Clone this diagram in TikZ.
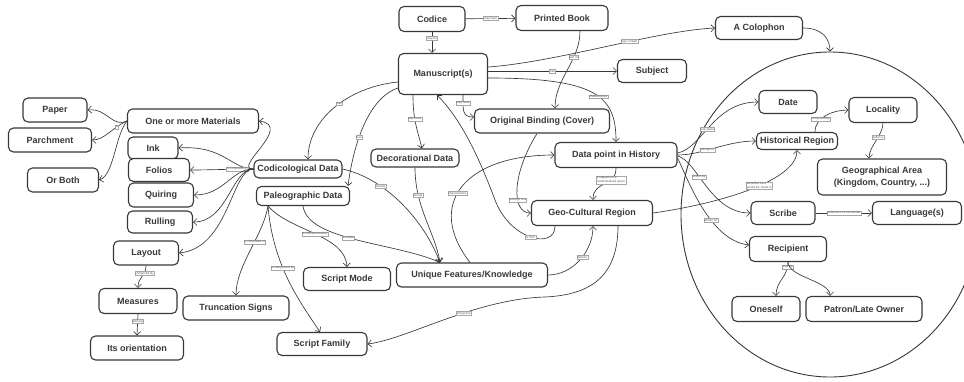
\documentclass[tikz,border=0pt]{standalone}
\usepackage{fontspec}
\setmainfont{Liberation Sans}
\usetikzlibrary{arrows.meta,shapes.geometric}
\pgfdeclarelayer{bg}
\pgfsetlayers{bg,main}
\definecolor{dk}{HTML}{383838}
\definecolor{lblc}{HTML}{555555}
\tikzset{
 box/.style={draw=dk, line width=1.1pt, rounded corners=5pt, fill=white, text=dk,
   font=\fontsize{9}{11.5}\selectfont\bfseries, inner sep=1pt, align=center},
 sz/.style 2 args={minimum width=#1pt, minimum height=#2pt},
 arr/.style={draw=dk, line width=0.65pt, -{Straight Barb[length=3.5pt,width=7pt]}},
 lbl/.style={font=\fontsize{3}{3.6}\selectfont, fill=white, draw=gray!70, line width=0.2pt,
   inner sep=0.6pt, text=lblc, align=left},
}
\begin{document}
\begin{tikzpicture}[x=1pt,y=-1pt]
\useasboundingbox (0,0) rectangle (964,381);
\clip (0,0) rectangle (964,381);
% nodes
\node[box,sz={66}{25}] (codice) at (432,19) {Codice};
\node[box,sz={92}{25}] (printed) at (562,18) {Printed Book};
\node[box,sz={89}{41}] (ms) at (443,74) {Manuscript(s)};
\node[box,sz={87}{23}] (colophon) at (759,28) {A Colophon};
\node[box,sz={69}{23}] (subject) at (652,71) {Subject};
\node[box,sz={64}{24}] (paper) at (55,110) {Paper};
\node[box,sz={83}{24}] (parchment) at (50,140) {Parchment};
\node[box,sz={71}{24}] (orboth) at (63,180) {Or Both};
\node[box,sz={131}{24}] (materials) at (193,121) {One or more Materials};
\node[box,sz={50}{22}] (inkn) at (153,148) {Ink};
\node[box,sz={61}{23}] (folios) at (159,170) {Folios};
\node[box,sz={65}{24}] (quiring) at (161,195) {Quiring};
\node[box,sz={65}{22}] (rulling) at (160,222) {Rulling};
\node[box,sz={65}{24}] (layout) at (146,253) {Layout};
\node[box,sz={78}{25}] (measures) at (138,301) {Measures};
\node[box,sz={93}{24}] (orient) at (137,348) {Its orientation};
\node[box,sz={106}{24}] (trunc) at (236,308) {Truncation Signs};
\node[box,sz={88}{18}] (codic) at (298,169) {Codicological Data};
\node[box,sz={93}{19}] (paleo) at (303,196) {Paleographic Data};
\node[box,sz={88}{18}] (decor) at (415,158) {Decorational Data};
\node[box,sz={135}{24}] (binding) at (542,121) {Original Binding (Cover)};
\node[box,sz={122}{25}] (datapt) at (616,155) {Data point in History};
\node[box,sz={121}{25}] (geo) at (592,213) {Geo-Cultural Region};
\node[box,sz={151}{24}] (unique) at (472,275) {Unique Features/Knowledge};
\node[box,sz={87}{23}] (mode) at (347,279) {Script Mode};
\node[box,sz={90}{23}] (family) at (322,344) {Script Family};
\node[box,sz={58}{23}] (date) at (788,102) {Date};
\node[box,sz={81}{17}] (histreg) at (797,141) {Historical Region};
\node[box,sz={68}{25}] (locality) at (883,110) {Locality};
\node[box,sz={129}{36}] (geoarea) at (882,177) {Geographical Area\\(Kingdom, Country, ...)};
\node[box,sz={64}{23}] (scribe) at (783,213) {Scribe};
\node[box,sz={89}{23}] (lang) at (917,213) {Language(s)};
\node[box,sz={77}{25}] (recipient) at (788,249) {Recipient};
\node[box,sz={68}{25}] (oneself) at (766,309) {Oneself};
\node[box,sz={116}{25}] (patron) at (864,309) {Patron/Late Owner};

\begin{pgfonlayer}{bg}
\fill[white] (0,0) rectangle (964,381);
\node[ellipse, draw=dk, line width=0.9pt, minimum width=298pt, minimum height=325pt, inner sep=0pt] (circ) at (830,214.5) {};
% top
\draw[arr] (codice) -- (printed) node[lbl,midway]{may have};
\draw[arr] (codice.south) -- (codice.south |- ms.north) node[lbl,pos=0.3]{may be};
\draw[arr] ([yshift=7pt]ms.east) .. controls +(70,-5) and +(-60,3) .. (colophon.west) node[lbl,pos=0.6]{may contain};
\draw[arr] ([yshift=3pt]ms.east) -- (subject.west) node[lbl,pos=0.5]{has};
\draw[arr] ([xshift=18pt]printed.south) .. controls +(0,30) and +(0,-30) .. ([xshift=13pt]binding.north) node[lbl,pos=0.33]{part of};
\draw[arr] ([yshift=-4pt]ms.east) .. controls +(110,0) and +(0,-45) .. (datapt.north) node[lbl,pos=0.55]{characterizes};
\draw[arr] ([xshift=20pt]ms.south) .. controls +(0,15) and +(-12,0) .. ([yshift=4pt]binding.west) node[lbl,pos=0.2]{may have};
\draw[arr] ([xshift=-30pt]ms.south) .. controls +(0,25) and +(-5,-20) .. ([xshift=7pt]decor.north) node[lbl,pos=0.4]{may have};
\draw[arr] ([yshift=-8pt]ms.west) .. controls +(-50,5) and +(0,-40) .. ([xshift=10pt]codic.north) node[lbl,pos=0.45]{has};
\draw[arr] ([yshift=-14pt]ms.west) .. controls +(-30,10) and +(5,-40) .. ([xshift=-2pt]paleo.north east) node[lbl,pos=0.6]{has};
% to unique features
\draw[arr] (decor.south) .. controls +(0,40) and +(-5,-30) .. ([xshift=-32pt]unique.north) node[lbl,pos=0.25]{shows};
\draw[arr] (codic.east) .. controls +(45,10) and +(-15,-40) .. ([xshift=-32pt]unique.north) node[lbl,pos=0.3]{reveals};
\draw[arr] (paleo.south) .. controls +(5,35) and +(-45,-20) .. ([xshift=-32pt]unique.north) node[lbl,pos=0.45]{provides};
\draw[arr] ([xshift=-2pt]unique.north) .. controls +(-45,-58) and +(-90,0) .. (datapt.west) node[lbl,pos=0.45]{characterizes};
\draw[arr] ([xshift=-37pt]geo.south) .. controls +(0,24) and +(15,40) .. (495,200) node[lbl,pos=0.5]{is from} .. controls +(-15,-40) and +(25,25) .. ([xshift=-6pt]ms.south);
\draw[arr] ([xshift=-5pt]binding.south) .. controls +(-25,40) and +(-20,0) .. (geo.west) node[lbl,pos=0.65]{belongs to a};
\draw[arr] (datapt.south) .. controls +(0,20) and +(0,-20) .. ([xshift=1pt]geo.north) node[lbl,pos=0.3]{it happens in a\\contextualized space};
\draw[arr] (unique.east) .. controls +(25,0) and +(0,25) .. ([xshift=1pt]geo.south) node[lbl,pos=0.55]{defines};
\draw[arr] ([xshift=26pt]geo.south) .. controls +(0,55) and +(40,-2) .. (545,297) .. controls +(-70,2) and +(40,-5) .. (family.east) node[lbl,pos=0.4]{influences};
% circle region
\draw[arr] (colophon.east) .. controls +(20,0) and +(0,-12) .. (circ.north);
\draw[arr] ([yshift=2pt]datapt.east) .. controls +(25,-5) and +(-45,0) .. (date.west) node[lbl,pos=0.45]{took place};
\draw[arr] (datapt.east) .. controls +(25,0) and +(-30,0) .. (histreg.west) node[lbl,pos=0.4]{belongs to};
\draw[arr] ([yshift=-1pt]datapt.east) .. controls +(20,5) and +(-40,0) .. (scribe.west) node[lbl,pos=0.38]{written by};
\draw[arr] ([yshift=-3pt]datapt.east) .. controls +(10,20) and +(-40,-5) .. ([yshift=4pt]recipient.west) node[lbl,pos=0.62]{written for};
\draw[arr] (geo.east) .. controls +(70,-10) and +(0,30) .. (histreg.south) node[lbl,pos=0.55]{identified via a\\produced, made in};
\draw[arr] ([xshift=18pt]histreg.north) .. controls +(0,-15) and +(-15,0) .. (locality.west) node[lbl,pos=0.35]{composed by};
\draw[arr] (locality.south) .. controls +(0,12) and +(0,-12) .. ([xshift=-13pt]geoarea.north) node[lbl,pos=0.4]{within a};
\draw[arr] (scribe) -- (lang) node[lbl,midway]{produces in a vernacular};
\draw[arr] (recipient.south) .. controls +(0,15) and +(0,-15) .. ([xshift=10pt]oneself.north) node[lbl,pos=0.12]{may be};
\draw[arr] (recipient.south) .. controls +(0,15) and +(0,-15) .. ([xshift=-34pt]patron.north);
% materials
\draw[arr] (materials.west) .. controls +(-15,7) and +(20,-2) .. (paper.east);
\draw[arr] (materials.west) .. controls +(-15,7) and +(12,0) .. (parchment.east) node[lbl,pos=0.25]{is};
\draw[arr] (materials.west) .. controls +(-12,15) and +(15,-5) .. (orboth.east);
% codicological fan
\draw[arr] (codic.west) .. controls +(-22,0) and +(35,5) .. (materials.east);
\draw[arr] (codic.west) .. controls +(-22,0) and +(45,-3) .. (inkn.east);
\draw[arr] (codic.west) .. controls +(-22,0) and +(20,0) .. (folios.east) node[lbl,pos=0.25]{is composed of};
\draw[arr] (codic.west) .. controls +(-22,0) and +(30,0) .. (quiring.east);
\draw[arr] (codic.west) .. controls +(-22,0) and +(35,0) .. (rulling.east);
\draw[arr] (codic.west) .. controls +(-22,0) and +(50,-5) .. (layout.east);
\draw[arr] (layout.south) .. controls +(0,12) and +(0,-12) .. (measures.north) node[lbl,pos=0.3]{composed by};
\draw[arr] (measures.south) -- (orient.north) node[lbl,pos=0.35]{defining};
% paleographic
\draw[arr] ([xshift=-35pt]paleo.south) .. controls +(-5,30) and +(0,-30) .. (trunc.north) node[lbl,pos=0.4]{is composed of};
\draw[arr] ([xshift=-35pt]paleo.south) .. controls +(22,25) and +(-2,-32) .. (mode.north) node[lbl,pos=0.5]{is characterized by};
\draw[arr] ([xshift=-35pt]paleo.south) .. controls +(5,60) and +(-20,-30) .. ([xshift=-2pt]family.north) node[lbl,pos=0.4]{is categorized by};
\end{pgfonlayer}
\end{tikzpicture}
\end{document}
